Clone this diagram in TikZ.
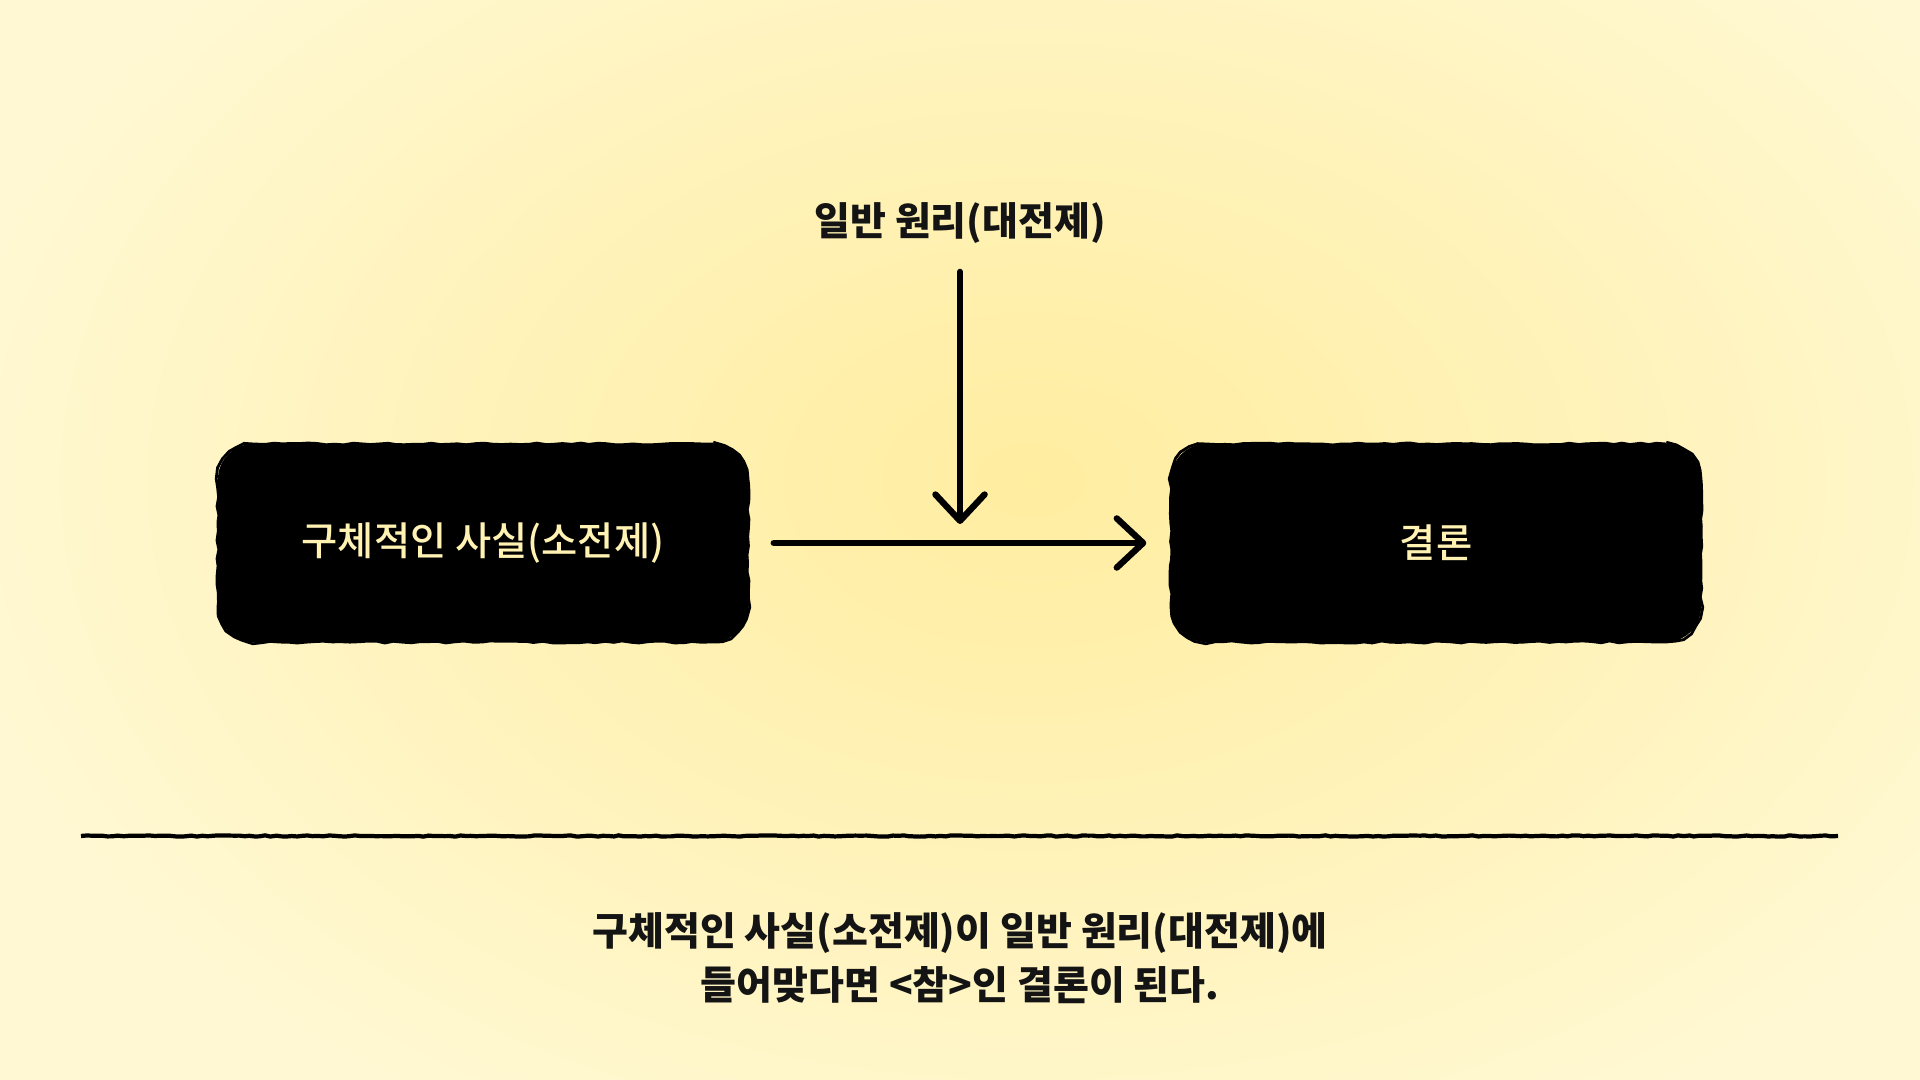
\documentclass[tikz,border=0pt]{standalone}
\usepackage{fontspec}
\newfontfamily\kr{Noto Sans CJK KR}
\newfontfamily\krmed{Noto Sans CJK KR Medium}
\usetikzlibrary{arrows.meta,positioning,decorations.pathmorphing}
\definecolor{paperyellow}{RGB}{255,248,210}
\definecolor{glowyellow}{RGB}{255,237,160}
\definecolor{labelcream}{RGB}{255,242,178}

\begin{document}
\begin{tikzpicture}[
  rough/.style={decorate, decoration={random steps, segment length=2.5pt, amplitude=0.3pt}},
  premise/.style={fill=black, rounded corners=10pt, minimum width=5.3cm,
    minimum height=1.98cm, text=labelcream, font=\krmed\fontsize{11.2}{13}\selectfont,
    postaction={draw=black, line width=0.8pt, sharp corners, rough}},
  heading/.style={font=\kr\bfseries\fontsize{11.1}{15.2}\selectfont, text=black!92},
  flow/.style={line width=1.8pt, line cap=round,
    -{Straight Barb[length=7.5pt, width=14pt, line width=1.8pt, round]}}
]
  \pgfmathsetseed{11}
  % paper and soft glow
  \useasboundingbox (0,0) rectangle (19.2,10.8);
  \begin{scope}
    \clip (0,0) rectangle (19.2,10.8);
    \shade[inner color=glowyellow, outer color=paperyellow] (-0.6,-1.4) rectangle (21.2,13.4);
  \end{scope}
  % premise boxes
  \node[premise] (fact) at (4.83,5.37) {구체적인 사실(소전제)};
  \node[premise] (concl) at (14.36,5.37) {결론};
  % general principle on top
  \node[heading] (principle) at (9.6,8.57) {일반 원리(대전제)};
  \coordinate (meet) at (9.6,5.38);
  \draw[flow, shorten <=0.25cm, shorten >=0.24cm] (fact) -- (concl);
  \draw[flow, shorten <=0.16cm, shorten >=0.18cm] (principle) -- (meet);
  % rule and summary
  \draw[line width=1.2pt, decorate, decoration={random steps, segment length=1.5pt, amplitude=0.18pt}]
    (0.81,2.44) -- (18.38,2.44);
  \node[heading, align=center] (summary) at (9.6,1.22)
    {구체적인 사실(소전제)이 일반 원리(대전제)에\\들어맞다면 <참>인 결론이 된다.};
\end{tikzpicture}
\end{document}
